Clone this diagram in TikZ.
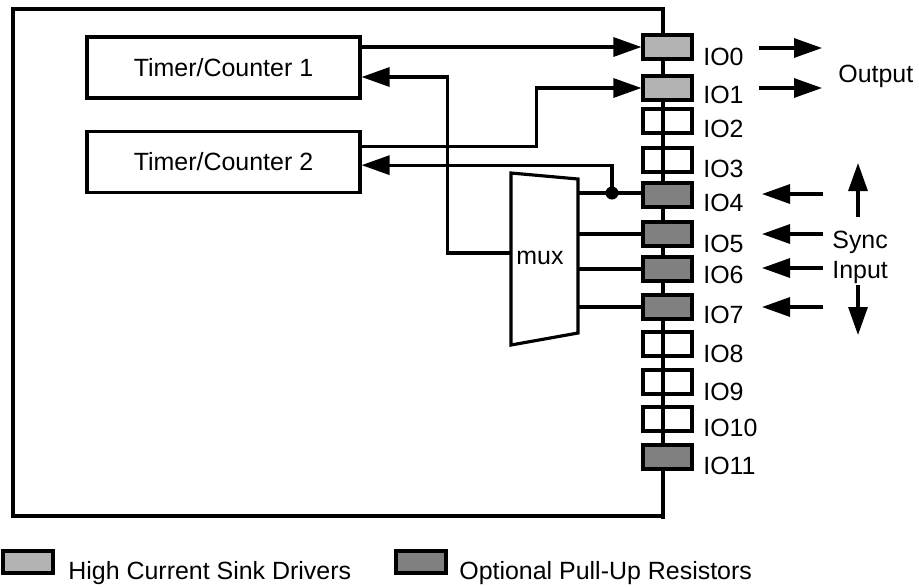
\documentclass[tikz,border=0pt]{standalone}
\usepackage{fontspec}
\setmainfont{Liberation Sans}
\usepackage{tikz}
\usetikzlibrary{arrows.meta, positioning, calc}
\definecolor{ioHigh}{HTML}{B3B3B3}
\definecolor{ioPull}{HTML}{808080}
\tikzset{
  tmrbox/.style={draw, line width=1.8pt, minimum width=5.46cm, minimum height=1.22cm, inner sep=0pt},
  iopin/.style={draw, line width=1.8pt, minimum width=0.98cm, minimum height=0.48cm, inner sep=0pt},
  iohi/.style={iopin, fill=ioHigh},
  iopu/.style={iopin, fill=ioPull},
  iolbl/.style={anchor=base west, inner sep=0pt},
  sigline/.style={line width=1.8pt},
  sigarr/.style={line width=1.8pt, -{Triangle[length=0.56cm,width=0.38cm]}},
}

\begin{document}
\begin{tikzpicture}[x=0.02cm, y=-0.02cm, font=\fontsize{14.2}{17}\selectfont]
\useasboundingbox (0,0) rectangle (919,586);
% chip outline and pin bus
\draw[sigline] (13,9) rectangle (663,516);
\draw[sigline] (663,9) -- (663,519);

\node[tmrbox] (tc1) at (223.5,67.5) {Timer/Counter 1};
\node[tmrbox, below=0.6cm of tc1] (tc2) {Timer/Counter 2};

% io pins
\node[iohi] (io0) at (667.5,47) {};
\node[iohi] (io1) at (667.5,88) {};
\node[iopin] (io2) at (667.5,121) {};
\node[iopin] (io3) at (667.5,160) {};
\node[iopu] (io4) at (667.5,195) {};
\node[iopu] (io5) at (667.5,234) {};
\node[iopu] (io6) at (667.5,269) {};
\node[iopu] (io7) at (667.5,307) {};
\node[iopin] (io8) at (667.5,344) {};
\node[iopin] (io9) at (667.5,382) {};
\node[iopin] (io10) at (667.5,419) {};
\node[iopu] (io11) at (667.5,457) {};

\node[iolbl] (lbl0) at (703,65) {IO0};
\node[iolbl] (lbl1) at (703,103) {IO1};
\node[iolbl] (lbl2) at (703,137) {IO2};
\node[iolbl] (lbl3) at (703,177) {IO3};
\node[iolbl] (lbl4) at (703,211) {IO4};
\node[iolbl] (lbl5) at (703,252) {IO5};
\node[iolbl] (lbl6) at (703,283) {IO6};
\node[iolbl] (lbl7) at (703,323) {IO7};
\node[iolbl] (lbl8) at (703,362) {IO8};
\node[iolbl] (lbl9) at (703,400) {IO9};
\node[iolbl] (lbl10) at (703,436) {IO10};
\node[iolbl] (lbl11) at (703,474) {IO11};

% mux
\draw[sigline] (511,173) -- (578,179) -- (578,333) -- (511,345) -- cycle;
\node (mux) at (540,258) {mux};
\coordinate (muxin) at (511,253);
\coordinate (muxr) at (578,0);
\coordinate (jn) at (612,193);

\draw[sigarr] ($(tc1.east)+(0,-20.5)$) -- (io0.west |- 0,47);
\draw[sigarr] (muxin) -| ($(tc1.east)+(86,9.5)$) -- ($(tc1.east)+(0,9.5)$);
\draw[sigarr] ($(tc2.east)+(0,-15.5)$) -| ($(io1.west)+(-105,0)$) -- (io1.west);
\draw[sigarr] (jn) |- ($(tc2.east)+(0,3.5)$);
\draw[sigline] (muxr |- jn) -- (io4.west |- jn);
\draw[sigline] (muxr |- io5.west) -- (io5.west);
\draw[sigline] (muxr |- io6.west) -- (io6.west);
\draw[sigline] (muxr |- io7.west) -- (io7.west);
\fill (jn) circle[radius=0.13cm];

% outside signals
\coordinate (out0) at (759,48);
\coordinate (out1) at (759,88);
\draw[sigarr] (out0) -- (822,48);
\draw[sigarr] (out1) -- (822,88);
\node[iolbl] (outlbl) at (838,82) {Output};

\coordinate (in4) at (823,194);
\coordinate (in5) at (823,234);
\coordinate (in6) at (823,268);
\coordinate (in7) at (823,307);
\draw[sigarr] (in4) -- (762,194);
\draw[sigarr] (in5) -- (762,234);
\draw[sigarr] (in6) -- (762,268);
\draw[sigarr] (in7) -- (762,307);
\coordinate (up) at (858,217);
\coordinate (dn) at (858,285);
\draw[sigarr] (up) -- (858,163);
\draw[sigarr] (dn) -- (858,335);
\node[iolbl] (synclbl) at (832,248) {Sync};
\node[iolbl] (inlbl) at (832,278) {Input};

% legend
\node[iohi, minimum width=1cm, minimum height=0.44cm] (keyhi) at (28,562) {};
\node[iolbl] (keyhitxt) at (68,579) {High Current Sink Drivers};
\node[iopu, minimum width=1cm, minimum height=0.44cm] (keypu) at (421,562) {};
\node[iolbl] (keyputxt) at (459,579) {Optional Pull-Up Resistors};
\end{tikzpicture}
\end{document}
